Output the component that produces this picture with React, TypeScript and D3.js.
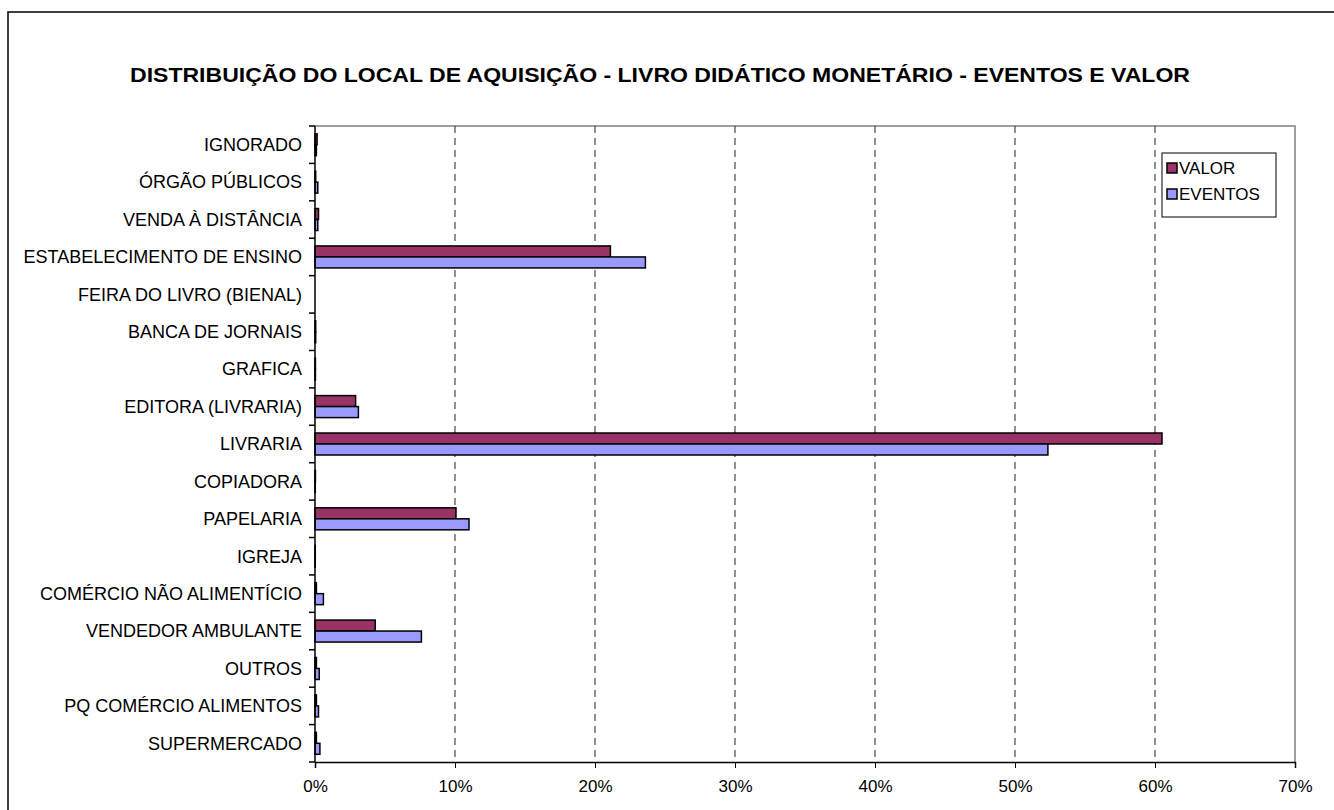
import React, { useEffect, useRef } from 'react';
import * as d3 from 'd3';

// Categories, top to bottom as shown
const categories = [
  'IGNORADO',
  'ÓRGÃO PÚBLICOS',
  'VENDA À DISTÂNCIA',
  'ESTABELECIMENTO DE ENSINO',
  'FEIRA DO LIVRO (BIENAL)',
  'BANCA DE JORNAIS',
  'GRAFICA',
  'EDITORA (LIVRARIA)',
  'LIVRARIA',
  'COPIADORA',
  'PAPELARIA',
  'IGREJA',
  'COMÉRCIO NÃO ALIMENTÍCIO',
  'VENDEDOR AMBULANTE',
  'OUTROS',
  'PQ COMÉRCIO ALIMENTOS',
  'SUPERMERCADO',
];

// Share values (fractions)
const valor = [0.0015, 0.0005, 0.0025, 0.211, 0, 0.0005, 0.0003, 0.029, 0.605, 0.0003, 0.1007, 0.0002, 0.001, 0.043, 0.001, 0.001, 0.001];
const eventos = [0.001, 0.002, 0.002, 0.236, 0, 0.0005, 0.0003, 0.031, 0.5235, 0.0002, 0.110, 0.0002, 0.006, 0.076, 0.003, 0.0025, 0.0035];

const xTicks = [0, 0.1, 0.2, 0.3, 0.4, 0.5, 0.6, 0.7];
const seriesNames = ['VALOR', 'EVENTOS'];
const seriesColors = ['#993366', '#9999FF'];

const title = 'DISTRIBUIÇÃO DO LOCAL DE AQUISIÇÃO - LIVRO DIDÁTICO MONETÁRIO - EVENTOS E VALOR';

const App: React.FC = () => {
  const svgRef = useRef<SVGSVGElement | null>(null);

  useEffect(() => {
    const svg = d3.select(svgRef.current);
    svg.selectAll('*').remove();

    const W = 1334;
    const H = 810;
    const font = 'Arial, "Liberation Sans", sans-serif';
    const plot = { left: 315, right: 1295, top: 126, bottom: 762 };

    // outer chart frame
    svg.append('rect')
      .attr('x', 8).attr('y', 12)
      .attr('width', W).attr('height', H)
      .attr('fill', '#fff').attr('stroke', '#000').attr('stroke-width', 1.5);

    svg.append('text')
      .attr('x', 660).attr('y', 82)
      .attr('text-anchor', 'middle')
      .attr('font-family', font).attr('font-size', 20).attr('font-weight', 'bold')
      .attr('textLength', 1060).attr('lengthAdjust', 'spacingAndGlyphs')
      .text(title);

    const x = d3.scaleLinear().domain([0, 0.7]).range([plot.left, plot.right]);
    const y = d3.scaleBand().domain(categories).range([plot.top, plot.bottom]);
    const inner = d3.scaleBand().domain(seriesNames).range([0, 22]);
    const off = (y.bandwidth() - 22) / 2;

    // plot border (top + right) in gray
    svg.append('path')
      .attr('d', `M${plot.left},${plot.top}H${plot.right}V${plot.bottom}`)
      .attr('fill', 'none').attr('stroke', '#808080').attr('stroke-width', 1.5);

    // dashed gridlines
    svg.append('g')
      .selectAll('line')
      .data(xTicks.filter(t => t > 0 && t < 0.7))
      .join('line')
      .attr('x1', d => x(d)).attr('x2', d => x(d))
      .attr('y1', plot.top).attr('y2', plot.bottom)
      .attr('stroke', '#222').attr('stroke-width', 1)
      .attr('stroke-dasharray', '7,5');

    // bars
    const series = [valor, eventos];
    series.forEach((vals, si) => {
      svg.append('g')
        .selectAll('rect')
        .data(categories)
        .join('rect')
        .attr('x', x(0))
        .attr('y', (d) => (y(d) as number) + off + (inner(seriesNames[si]) as number))
        .attr('width', (_, i) => x(vals[i]) - x(0))
        .attr('height', inner.bandwidth())
        .attr('fill', seriesColors[si])
        .attr('stroke', '#000').attr('stroke-width', 1.5);
    });

    // x axis
    const xAxis = d3.axisBottom(x)
      .tickValues(xTicks)
      .tickFormat(d => `${Math.round((d as number) * 100)}%`)
      .tickSizeOuter(0)
      .tickSize(6)
      .tickPadding(12);
    const gx = svg.append('g')
      .attr('transform', `translate(0,${plot.bottom})`)
      .call(xAxis);
    gx.select('.domain').attr('stroke-width', 1.5);
    gx.selectAll('text').attr('font-family', font).attr('font-size', 17).attr('fill', '#000');

    // y axis: ticks at band boundaries
    svg.append('line')
      .attr('x1', plot.left).attr('x2', plot.left)
      .attr('y1', plot.top).attr('y2', plot.bottom)
      .attr('stroke', '#000').attr('stroke-width', 1.5);
    const bounds = categories.map(c => y(c) as number).concat([plot.bottom]);
    svg.append('g')
      .selectAll('line')
      .data(bounds)
      .join('line')
      .attr('x1', plot.left - 6).attr('x2', plot.left)
      .attr('y1', d => d).attr('y2', d => d)
      .attr('stroke', '#000').attr('stroke-width', 1.5);
    svg.append('g')
      .selectAll('text')
      .data(categories)
      .join('text')
      .attr('x', 302)
      .attr('y', d => (y(d) as number) + y.bandwidth() / 2)
      .attr('dy', '0.35em')
      .attr('text-anchor', 'end')
      .attr('font-family', font).attr('font-size', 18)
      .text(d => d);

    // legend
    const lg = svg.append('g').attr('transform', 'translate(1162,153)');
    lg.append('rect')
      .attr('width', 114).attr('height', 64)
      .attr('fill', '#fff').attr('stroke', '#000').attr('stroke-width', 1);
    seriesNames.forEach((name, i) => {
      const cy = 15 + i * 26;
      lg.append('rect')
        .attr('x', 5).attr('y', cy - 5)
        .attr('width', 10).attr('height', 10)
        .attr('fill', seriesColors[i]).attr('stroke', '#000').attr('stroke-width', 1.5);
      lg.append('text')
        .attr('x', 17).attr('y', cy)
        .attr('dy', '0.35em')
        .attr('font-family', font).attr('font-size', 17)
        .text(name);
    });
  }, []);

  return (
    <svg ref={svgRef} width={1334} height={810}
      style={{ position: 'absolute', left: 0, top: 0, display: 'block' }} />
  );
};

export default App;
